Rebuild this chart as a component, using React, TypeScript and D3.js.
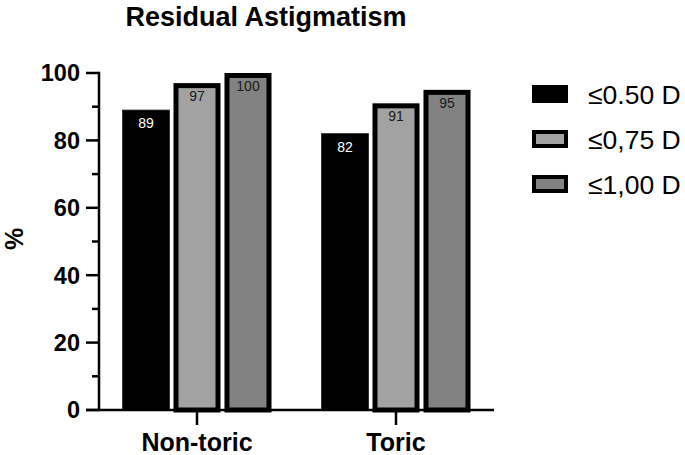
import React from "react";
import * as d3 from "d3";

const categories = ["Non-toric", "Toric"];
const series = ["≤0.50 D", "≤0,75 D", "≤1,00 D"];
const valuesLe050 = [89, 82];
const valuesLe075 = [97, 91];
const valuesLe100 = [100, 95];
const yTicks = [0, 20, 40, 60, 80, 100];
const yMinorTicks = [10, 30, 50, 70, 90];

const seriesValues = [valuesLe050, valuesLe075, valuesLe100];
const fills = ["#000000", "#a2a2a2", "#828282"];
const FONT = "'Liberation Sans', Arial, Helvetica, sans-serif";

export default function App() {
  const W = 685, H = 455;
  const y = d3.scaleLinear().domain([0, 100]).range([410, 73]);
  const x = d3.scalePoint<string>().domain(categories).range([197, 396]);
  const inner = d3.scaleBand<string>().domain(series).range([-74.5, 74.5]).paddingInner(0.078).paddingOuter(0);
  const bw = inner.bandwidth();
  const sw = 5;

  return (
    <svg width={W} height={H} style={{ position: "absolute", left: 0, top: 0, background: "#fff" }} fontFamily={FONT}>
      <text x={266} y={26} textAnchor="middle" fontSize={27} fontWeight="bold">Residual Astigmatism</text>

      {/* bars */}
      {categories.map((c, ci) =>
        series.map((s, si) => {
          const v = seriesValues[si][ci];
          const x0 = (x(c) as number) + (inner(s) as number);
          const yt = y(v);
          const yb = y(0);
          const isBlack = si === 0;
          return (
            <g key={c + s}>
              {isBlack ? (
                <rect x={x0} y={yt} width={bw} height={yb - yt} fill={fills[si]} stroke="#222" strokeWidth={0.8} />
              ) : (
                <rect x={x0 + sw / 2} y={yt + sw / 2} width={bw - sw} height={yb - yt - sw / 2} fill={fills[si]} stroke="#000" strokeWidth={sw} />
              )}
              <text x={x0 + bw / 2} y={yt + 18} textAnchor="middle" fontSize={14} fill={isBlack ? "#fff" : "#1a1a1a"}>{v}</text>
            </g>
          );
        })
      )}

      {/* y axis */}
      <line x1={99} x2={99} y1={y(100) - 1.25} y2={y(0)} stroke="#000" strokeWidth={2.5} />
      {yTicks.map(t => (
        <g key={t}>
          <line x1={86} x2={99} y1={y(t)} y2={y(t)} stroke="#000" strokeWidth={2.5} />
          <text x={80} y={y(t)} dy="0.36em" textAnchor="end" fontSize={23.5} fontWeight="bold">{t}</text>
        </g>
      ))}
      {yMinorTicks.map(t => (
        <line key={t} x1={92} x2={99} y1={y(t)} y2={y(t)} stroke="#000" strokeWidth={2.5} />
      ))}
      <text transform={`translate(23,239) rotate(-90)`} textAnchor="middle" fontSize={25} fontWeight="bold">%</text>

      {/* x axis */}
      <line x1={86} x2={494} y1={y(0)} y2={y(0)} stroke="#000" strokeWidth={2.5} />
      {categories.map(c => (
        <g key={c}>
          <line x1={x(c)} x2={x(c)} y1={y(0)} y2={425} stroke="#000" strokeWidth={2.5} />
          <text x={x(c)} y={451} textAnchor="middle" fontSize={25} fontWeight="bold">{c}</text>
        </g>
      ))}

      {/* legend */}
      {series.map((s, i) => {
        const ly = 85 + i * 45;
        return (
          <g key={s}>
            {i === 0 ? (
              <rect x={532} y={ly} width={36} height={18} fill="#000" />
            ) : (
              <rect x={534} y={ly + 2} width={32} height={14} fill={fills[i]} stroke="#000" strokeWidth={4} />
            )}
            <text x={588} y={ly + 18.5} fontSize={26.5}>{s}</text>
          </g>
        );
      })}
    </svg>
  );
}
